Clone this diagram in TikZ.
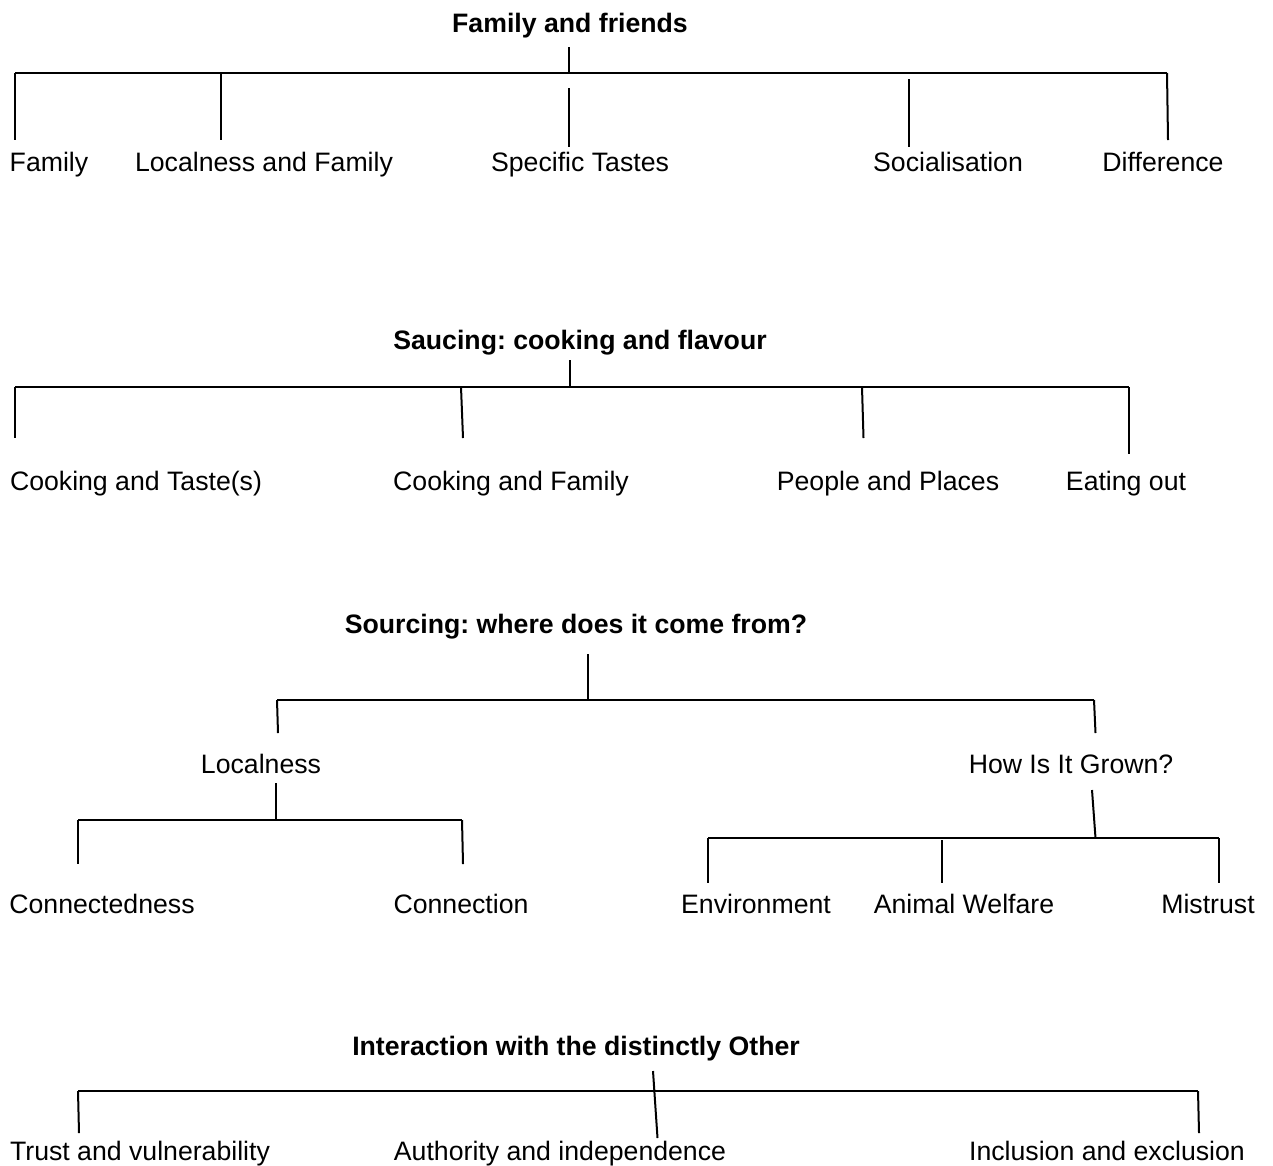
\documentclass[tikz,border=0pt]{standalone}
\usepackage{fontspec}
\setmainfont{Liberation Sans}
\frenchspacing
\begin{document}
\begin{tikzpicture}[x=0.75pt,y=-0.75pt,
  lbl/.style={anchor=base,inner sep=0pt,font=\fontsize{20pt}{24pt}\selectfont},
  ttl/.style={anchor=base,inner sep=0pt,font=\fontsize{20pt}{24pt}\selectfont\bfseries},
  br/.style={line width=1.5pt,line cap=butt}]
\useasboundingbox (0,0) rectangle (1273,1165);

% ---------- Family and friends ----------
\node[ttl] (t1) at (570,32) {Family and friends};
\coordinate (t1s) at (569,47);
\coordinate (t1j) at (569,73);
\coordinate (h1l) at (15,73);
\coordinate (h1r) at (1167,73);
\draw[br] (t1s) -- (t1j);
\draw[br] (h1l) -- (h1r);
\node[lbl] (f1) at (49,171) {Family};
\node[lbl] (f2) at (264,171) {Localness and Family};
\node[lbl] (f3) at (580,171) {Specific Tastes};
\node[lbl] (f4) at (948,171) {Socialisation};
\node[lbl] (f5) at (1163,171) {Difference};
\draw[br] (h1l) -- (15,140);
\draw[br] (221,73) -- (221,140);
\draw[br] (569,88) -- (569,147);
\draw[br] (909,79) -- (909,147);
\draw[br] (h1r) -- (1168,140);

% ---------- Saucing ----------
\node[ttl] (t2) at (580,349) {Saucing: cooking and flavour};
\coordinate (t2s) at (570,360);
\coordinate (t2j) at (570,387);
\coordinate (h2l) at (15,387);
\coordinate (h2r) at (1129,387);
\draw[br] (t2s) -- (t2j);
\draw[br] (h2l) -- (h2r);
\node[lbl] (s1) at (136,490) {Cooking and Taste(s)};
\node[lbl] (s2) at (511,490) {Cooking and Family};
\node[lbl] (s3) at (888,490) {People and Places};
\node[lbl] (s4) at (1126,490) {Eating out};
\draw[br] (h2l) -- (15,438);
\draw[br] (461,387) -- (463,438);
\draw[br] (862,387) -- (863.5,438);
\draw[br] (h2r) -- (1129,454);

% ---------- Sourcing ----------
\node[ttl] (t3) at (576,633) {Sourcing: where does it come from?};
\coordinate (t3s) at (587.5,654);
\coordinate (t3j) at (587.5,700);
\coordinate (h3l) at (277,700);
\coordinate (h3r) at (1094,700);
\draw[br] (t3s) -- (t3j);
\draw[br] (h3l) -- (h3r);
\node[lbl] (loc) at (261,773) {Localness};
\node[lbl] (grw) at (1071,773) {How Is It Grown?};
\draw[br] (h3l) -- (278,733);
\draw[br] (h3r) -- (1095.5,733);

% Localness branch
\coordinate (ls) at (276,783);
\coordinate (lj) at (276,820);
\coordinate (h4l) at (78,820);
\coordinate (h4r) at (462,820);
\draw[br] (ls) -- (lj);
\draw[br] (h4l) -- (h4r);
\node[lbl] (c1) at (102,913) {Connectedness};
\node[lbl] (c2) at (461,913) {Connection};
\draw[br] (h4l) -- (78,864);
\draw[br] (h4r) -- (463,864);

% How Is It Grown? branch
\coordinate (gs) at (1092,790);
\coordinate (gj) at (1095.5,838);
\coordinate (h5l) at (708,838);
\coordinate (h5r) at (1219,838);
\draw[br] (gs) -- (gj);
\draw[br] (h5l) -- (h5r);
\node[lbl] (g1) at (756,913) {Environment};
\node[lbl] (g2) at (964,913) {Animal Welfare};
\node[lbl] (g3) at (1208,913) {Mistrust};
\draw[br] (h5l) -- (708,883);
\draw[br] (941.5,840) -- (941.5,883);
\draw[br] (h5r) -- (1219,883);

% ---------- Interaction with the distinctly Other ----------
\node[ttl] (t4) at (576,1055) {Interaction with the distinctly Other};
\coordinate (h6l) at (78,1091);
\coordinate (h6r) at (1198,1091);
\draw[br] (h6l) -- (h6r);
\node[lbl] (o1) at (140,1160) {Trust and vulnerability};
\node[lbl] (o2) at (560,1160) {Authority and independence};
\node[lbl] (o3) at (1107,1160) {Inclusion and exclusion};
\draw[br] (653,1071) -- (657.5,1138);
\draw[br] (h6l) -- (79,1133);
\draw[br] (h6r) -- (1199,1133);
\end{tikzpicture}
\end{document}
